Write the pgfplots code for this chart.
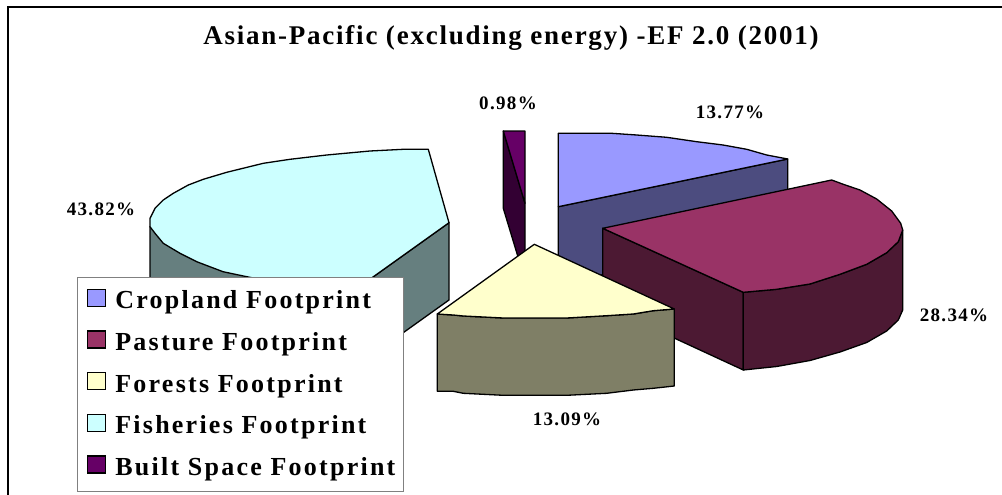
\documentclass[border=0pt]{standalone}
\usepackage{fontspec}
\usepackage{pgfplots}
\pgfplotsset{compat=1.18}
\setmainfont{Liberation Serif}
\newfontfamily\titlefont[LetterSpace=6.55]{Liberation Serif}
\newfontfamily\legfont[LetterSpace=8.6]{Liberation Serif}
\newfontfamily\labfont[LetterSpace=7]{Liberation Serif}

\definecolor{crop}{HTML}{9999FF}
\definecolor{cropside}{HTML}{4C4C7F}
\definecolor{past}{HTML}{993366}
\definecolor{pastside}{HTML}{4C1933}
\definecolor{forest}{HTML}{FFFFCC}
\definecolor{forestside}{HTML}{7F7F66}
\definecolor{fish}{HTML}{CCFFFF}
\definecolor{fishside}{HTML}{667F7F}
\definecolor{built}{HTML}{660066}
\definecolor{builtside}{HTML}{330033}

\tikzset{lab/.style={font=\fontsize{19}{19}\selectfont\labfont\bfseries}}

\begin{document}
\begin{tikzpicture}[x=1pt,y=1pt]
\useasboundingbox (0,0) rectangle (1002pt,495pt);
\begin{axis}[
    scale only axis,
    width=1002pt, height=495pt,
    xmin=0, xmax=1002, ymin=0, ymax=495,
    y dir=reverse,
    hide axis,
    slice/.style={draw=black, line width=1.3pt, line join=round, forget plot},
    legend cell align=left,
    legend image code/.code={
        \draw[#1, line width=1.3pt] (3pt,-5pt) rectangle (21pt,12pt);
        \path[draw=none, fill=none] (0pt,0pt) -- (30pt,0pt);
    },
    legend style={
        at={(axis cs:76.7,277)}, anchor=north west,
        draw=gray, line width=1.3pt, fill=white,
        font=\fontsize{26}{26}\selectfont\legfont\bfseries,
        row sep=8.5pt, inner xsep=7pt, inner ysep=7pt,
        nodes={inner sep=1pt, text height=23pt, text depth=8.2pt},
    },
]

% outer frame, open on the right and at the bottom
\addplot[black, line width=2pt, forget plot] coordinates {(1002,7.5) (8,7.5) (8,495)};

% fisheries
\addplot[slice, fill=fishside] coordinates {
    (150,226.7) (150,303) (345,374) (372,355) (449,300) (449,222.7) (345,297)
} -- cycle;
\addplot[slice, fill=fish] coordinates {
    (428.3,149.3) (403.3,149.3) (370,151) (326.7,155) (290,159.3) (263.3,163.3)
    (226.7,172.3) (203.3,179.3) (188.3,185) (173.3,193.3) (163.3,200) (155,208.3)
    (150,218.3) (150,226.7) (155,233.3) (163.3,243.3) (180,253.3) (196.7,261.7)
    (223,271.7) (246.7,276.7) (300,287) (345,297) (449,222.7)
} -- cycle;

% built space
\addplot[slice, fill=builtside] coordinates {
    (503.3,131) (525,203.3) (525,280) (503.3,208.3)
} -- cycle;
\addplot[slice, fill=built] coordinates {
    (503.3,131) (525,131) (525,203.3)
} -- cycle;

% cropland
\addplot[slice, fill=cropside] coordinates {
    (558.3,206.7) (787.7,159) (787.7,236) (558.3,284)
} -- cycle;
\addplot[slice, fill=crop] coordinates {
    (558.3,133.3) (611.7,133.3) (636.7,135) (666.7,137.3) (696.7,141.7)
    (723,145) (746.7,149.3) (766.7,155) (787.7,159) (558.3,206.7)
} -- cycle;

% pasture
\addplot[slice, fill=pastside] coordinates {
    (602.7,228.3) (743.3,292.3) (743.3,370) (602.7,305)
} -- cycle;
\addplot[slice, fill=pastside] coordinates {
    (743.3,292.3) (776.7,289.3) (810,284) (840,274.3) (866.7,264.3) (886.7,252.7)
    (898.3,241.7) (902.7,230) (902.7,310) (898.3,320) (886.7,331) (866.7,342.5)
    (840,352) (810,360.5) (776.7,366.5) (743.3,370)
} -- cycle;
\addplot[slice, fill=past] coordinates {
    (602.7,228.3) (831.7,180) (843.3,184.3) (860,190) (876.7,199) (891.7,211)
    (900.7,223.3) (902.7,230) (898.3,241.7) (886.7,252.7) (866.7,264.3) (840,274.3)
    (810,284) (776.7,289.3) (743.3,292.3)
} -- cycle;

% forests
\addplot[slice, fill=forestside] coordinates {
    (437.3,314) (453.3,315) (463.3,316) (503.3,318) (566.7,318) (606.7,315.7)
    (633.3,314) (653.3,310.7) (674.3,309) (674.3,386) (653.3,388.3) (633.3,390)
    (606.7,393.3) (566.7,395.3) (503.3,395.3) (463.3,393.3) (453.3,391.3) (437.3,391.3)
} -- cycle;
\addplot[slice, fill=forest] coordinates {
    (534.3,244.3) (674.3,309) (653.3,310.7) (633.3,314) (606.7,315.7) (566.7,318)
    (503.3,318) (463.3,316) (453.3,315) (437.3,314)
} -- cycle;

\addlegendimage{fill=crop, draw=black}
\addlegendentry{Cropland Footprint}
\addlegendimage{fill=past, draw=black}
\addlegendentry{Pasture Footprint}
\addlegendimage{fill=forest, draw=black}
\addlegendentry{Forests Footprint}
\addlegendimage{fill=fish, draw=black}
\addlegendentry{Fisheries Footprint}
\addlegendimage{fill=built, draw=black}
\addlegendentry{Built Space Footprint}

\node[font=\fontsize{27}{27}\selectfont\titlefont\bfseries] at (axis cs:511,38) {Asian-Pacific (excluding energy) -EF 2.0 (2001)};
\node[lab] at (axis cs:508,103) {0.98\%};
\node[lab] at (axis cs:730,112) {13.77\%};
\node[lab] at (axis cs:101,209) {43.82\%};
\node[lab] at (axis cs:954,315) {28.34\%};
\node[lab] at (axis cs:567,419) {13.09\%};
\end{axis}
\end{tikzpicture}
\end{document}
